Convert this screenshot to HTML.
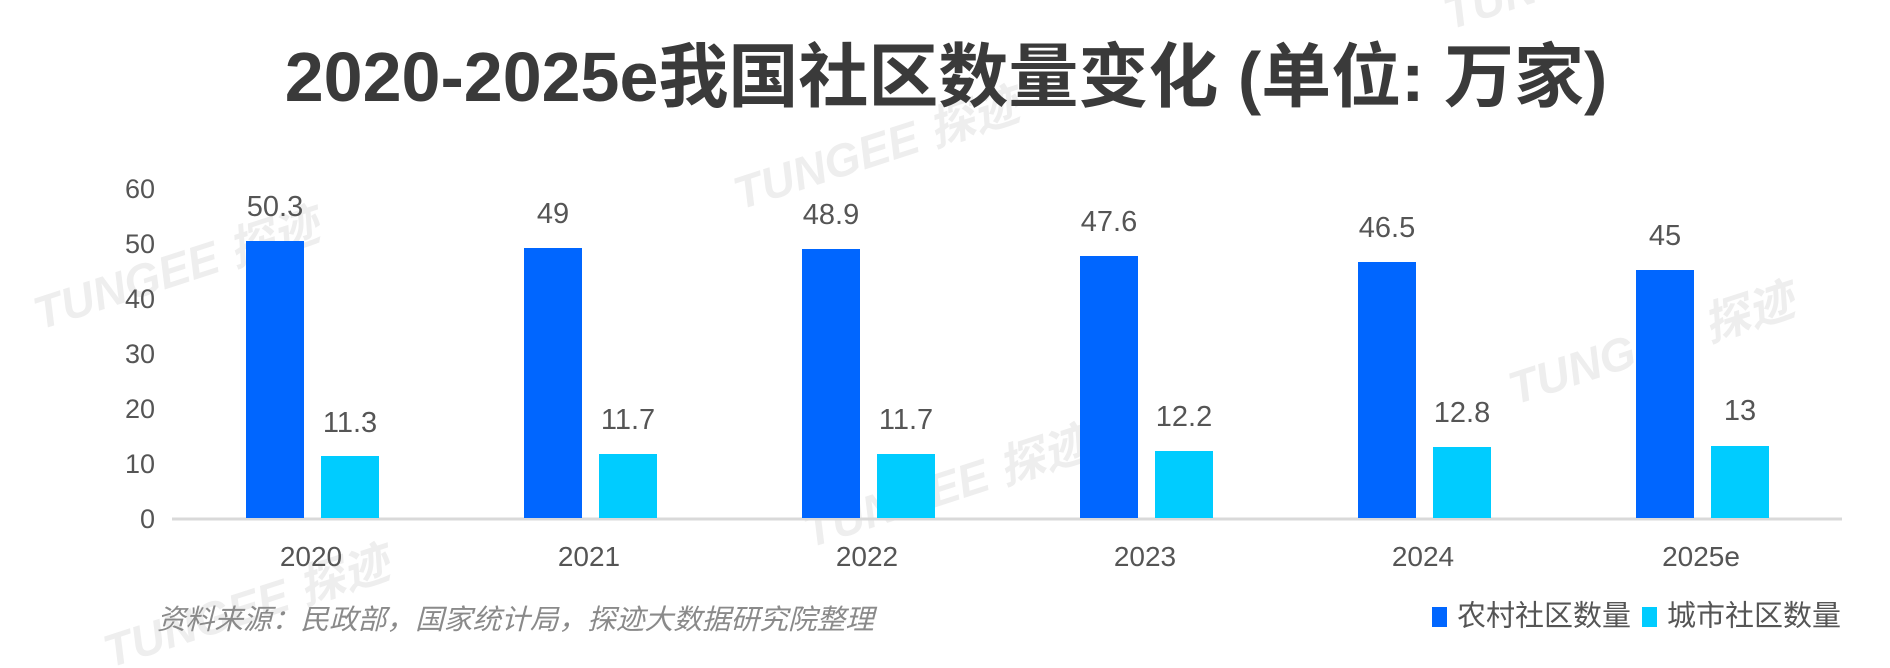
<!DOCTYPE html>
<html><head><meta charset="utf-8"><style>
html,body{margin:0;padding:0;background:#fff;}
svg{display:block;}
text{font-family:"Liberation Sans","Noto Sans CJK SC",sans-serif;}
</style></head><body>
<svg width="1890" height="668" viewBox="0 0 1890 668" xmlns="http://www.w3.org/2000/svg">
<g fill="#eeeeee" font-size="46" font-weight="bold" font-style="italic">
<text x="40" y="330" transform="rotate(-18 40 330)">TUNGEE 探迹</text>
<text x="740" y="210" transform="rotate(-18 740 210)">TUNGEE 探迹</text>
<text x="810" y="548" transform="rotate(-18 810 548)">TUNGEE 探迹</text>
<text x="1515" y="405" transform="rotate(-18 1515 405)">TUNGEE 探迹</text>
<text x="1450" y="30" transform="rotate(-18 1450 30)">TUNGEE 探迹</text>
<text x="110" y="668" transform="rotate(-18 110 668)">TUNGEE 探迹</text>
</g>
<text x="946" y="101" text-anchor="middle" font-size="70" font-weight="bold" fill="#3a3a3a">2020-2025e我国社区数量变化 (单位: 万家)</text>
<g font-size="27" fill="#555" text-anchor="end">
<text x="155" y="198">60</text>
<text x="155" y="253">50</text>
<text x="155" y="308">40</text>
<text x="155" y="363">30</text>
<text x="155" y="418">20</text>
<text x="155" y="473">10</text>
<text x="155" y="528">0</text>
</g>
<line x1="172" y1="519" x2="1842" y2="519" stroke="#d9d9d9" stroke-width="3"/>
<rect x="246" y="241" width="58" height="277" fill="#0066ff"/>
<rect x="321" y="456" width="58" height="62" fill="#00ccff"/>
<rect x="524" y="248" width="58" height="270" fill="#0066ff"/>
<rect x="599" y="454" width="58" height="64" fill="#00ccff"/>
<rect x="802" y="249" width="58" height="269" fill="#0066ff"/>
<rect x="877" y="454" width="58" height="64" fill="#00ccff"/>
<rect x="1080" y="256" width="58" height="262" fill="#0066ff"/>
<rect x="1155" y="451" width="58" height="67" fill="#00ccff"/>
<rect x="1358" y="262" width="58" height="256" fill="#0066ff"/>
<rect x="1433" y="447" width="58" height="71" fill="#00ccff"/>
<rect x="1636" y="270" width="58" height="248" fill="#0066ff"/>
<rect x="1711" y="446" width="58" height="72" fill="#00ccff"/>
<g font-size="29" fill="#555" text-anchor="middle">
<text x="275" y="216">50.3</text><text x="350" y="432">11.3</text>
<text x="553" y="223">49</text><text x="628" y="429">11.7</text>
<text x="831" y="224">48.9</text><text x="906" y="429">11.7</text>
<text x="1109" y="231">47.6</text><text x="1184" y="426">12.2</text>
<text x="1387" y="237">46.5</text><text x="1462" y="422">12.8</text>
<text x="1665" y="245">45</text><text x="1740" y="420">13</text>
</g>
<g font-size="28" fill="#555" text-anchor="middle">
<text x="311" y="566">2020</text>
<text x="589" y="566">2021</text>
<text x="867" y="566">2022</text>
<text x="1145" y="566">2023</text>
<text x="1423" y="566">2024</text>
<text x="1701" y="566">2025e</text>
</g>
<text x="157" y="629" font-size="28" font-style="italic" fill="#8a8a8a" textLength="717" lengthAdjust="spacingAndGlyphs">资料来源：民政部，国家统计局，探迹大数据研究院整理</text>
<rect x="1432" y="607" width="15" height="20" fill="#0066ff"/>
<text x="1457" y="618" font-size="29" fill="#555" dominant-baseline="middle">农村社区数量</text>
<rect x="1642" y="607" width="15" height="20" fill="#00ccff"/>
<text x="1667" y="618" font-size="29" fill="#555" dominant-baseline="middle">城市社区数量</text>
</svg>
</body></html>
